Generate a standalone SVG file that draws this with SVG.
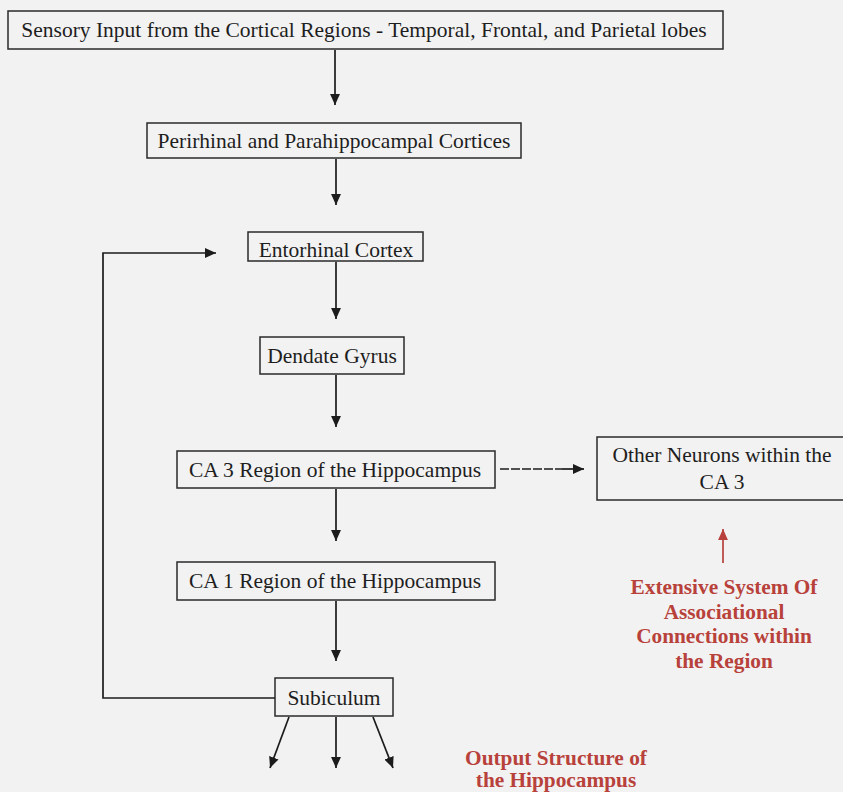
<svg xmlns="http://www.w3.org/2000/svg" width="843" height="792" viewBox="0 0 843 792">
  <defs>
    <marker id="ah" viewBox="0 0 10 10" refX="10" refY="5" markerWidth="11" markerHeight="11" markerUnits="userSpaceOnUse" orient="auto">
      <path d="M0,0.5 L10,5 L0,9.5 Z" fill="#1c1c1c"/>
    </marker>
    <marker id="ahRed" viewBox="0 0 10 10" refX="10" refY="5" markerWidth="11" markerHeight="11" markerUnits="userSpaceOnUse" orient="auto">
      <path d="M0,0.5 L10,5 L0,9.5 Z" fill="#b8423b"/>
    </marker>
    <style>
      .box { fill: none; stroke: #2a2a2a; stroke-width: 1.5; }
      .lbl { font-family: "Liberation Serif", "Times New Roman", serif; font-size: 21.5px; fill: #1e1e1e; text-anchor: middle; }
      .note { font-family: "Liberation Serif", "Times New Roman", serif; font-size: 21.3px; font-weight: bold; fill: #b8423b; text-anchor: middle; }
      .link { fill: none; stroke: #1c1c1c; stroke-width: 1.7; }
      .link-red { fill: none; stroke: #b8423b; stroke-width: 1.7; }
    </style>
  </defs>

  <rect x="0" y="0" width="843" height="792" fill="#f2f2f2"/>

  <g id="sensory-input">
    <rect class="box" x="8" y="11" width="715" height="38"/>
    <text class="lbl" x="364" y="37">Sensory Input from the Cortical Regions - Temporal, Frontal, and Parietal lobes</text>
  </g>

  <g id="perirhinal">
    <rect class="box" x="147" y="123" width="374" height="35"/>
    <text class="lbl" x="334" y="148">Perirhinal and Parahippocampal Cortices</text>
  </g>

  <g id="entorhinal">
    <rect class="box" x="248" y="232" width="175" height="29"/>
    <text class="lbl" x="336" y="257">Entorhinal Cortex</text>
  </g>

  <g id="dentate-gyrus">
    <rect class="box" x="260" y="337" width="144" height="37"/>
    <text class="lbl" x="332" y="363">Dendate Gyrus</text>
  </g>

  <g id="ca3">
    <rect class="box" x="177" y="451" width="318" height="37"/>
    <text class="lbl" x="335" y="477">CA 3 Region of the Hippocampus</text>
  </g>

  <g id="other-neurons">
    <rect class="box" x="597" y="437" width="260" height="63"/>
    <text class="lbl" x="722" y="462">Other Neurons within the</text>
    <text class="lbl" x="722" y="489">CA 3</text>
  </g>

  <g id="ca1">
    <rect class="box" x="177" y="562" width="318" height="38"/>
    <text class="lbl" x="335" y="588">CA 1 Region of the Hippocampus</text>
  </g>

  <g id="subiculum">
    <rect class="box" x="275" y="678" width="118" height="38"/>
    <text class="lbl" x="334" y="705">Subiculum</text>
  </g>

  <g id="associational-note">
    <text class="note" x="724" y="594">Extensive System Of</text>
    <text class="note" x="724" y="619">Associational</text>
    <text class="note" x="724" y="643">Connections  within</text>
    <text class="note" x="724" y="668">the Region</text>
  </g>

  <g id="output-note">
    <text class="note" x="556" y="765">Output Structure of</text>
    <text class="note" x="556" y="787">the Hippocampus</text>
  </g>

  <g id="connectors">
    <line class="link" x1="335" y1="50" x2="335" y2="105" marker-end="url(#ah)"/>
    <line class="link" x1="336" y1="159" x2="336" y2="205" marker-end="url(#ah)"/>
    <line class="link" x1="336" y1="262" x2="336" y2="319" marker-end="url(#ah)"/>
    <line class="link" x1="336" y1="375" x2="336" y2="427" marker-end="url(#ah)"/>
    <line class="link" x1="336" y1="489" x2="336" y2="541" marker-end="url(#ah)"/>
    <line class="link" x1="336" y1="601" x2="336" y2="661" marker-end="url(#ah)"/>
    <line class="link" x1="500" y1="469" x2="562" y2="469" stroke-dasharray="9 2"/>
    <line class="link" x1="562" y1="469" x2="584" y2="469" marker-end="url(#ah)"/>
    <polyline class="link" points="275,698 103,698 103,253 216,253" marker-end="url(#ah)"/>
    <line class="link" x1="289" y1="717" x2="270" y2="768" marker-end="url(#ah)"/>
    <line class="link" x1="336" y1="717" x2="336" y2="768" marker-end="url(#ah)"/>
    <line class="link" x1="373" y1="717" x2="393" y2="768" marker-end="url(#ah)"/>
    <line class="link-red" x1="723" y1="563" x2="723" y2="529" marker-end="url(#ahRed)"/>
  </g>
</svg>
